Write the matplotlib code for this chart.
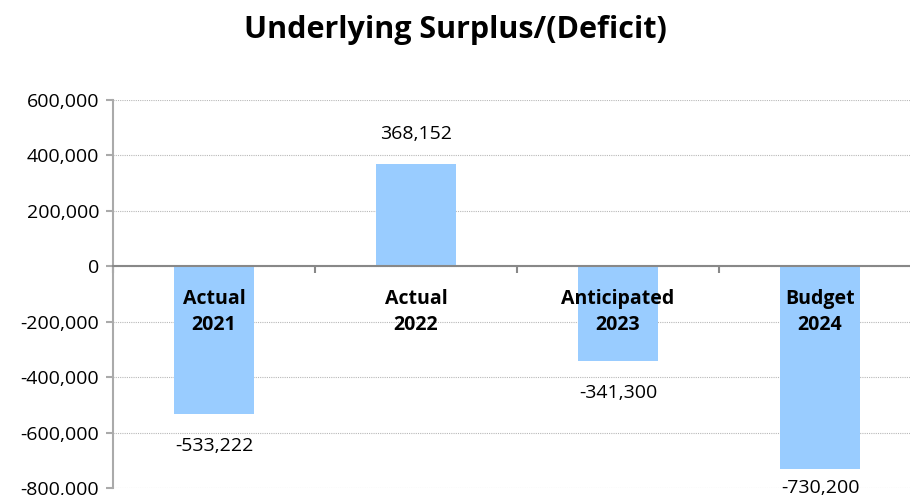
import matplotlib.pyplot as plt
import numpy as np

plt.rcParams['font.family'] = ['Open Sans', 'DejaVu Sans']

categories = ['Actual\n2021', 'Actual\n2022', 'Anticipated\n2023', 'Budget\n2024']
values = [-533222, 368152, -341300, -730200]
yticks = [-800000, -600000, -400000, -200000, 0, 200000, 400000, 600000]

fig = plt.figure(figsize=(9.1, 4.95), dpi=100)
ax = fig.add_axes([113 / 910, 1 - 488 / 495, 808 / 910, 388 / 495])

x = np.arange(len(categories))
ax.bar(x, values, width=0.4, color='#99ccff', zorder=2)

ymin, ymax = -800000, 600000
ax.set_xlim(-0.5, 3.5)
ax.set_ylim(ymin, ymax)
ax.set_yticks(yticks)
ax.set_yticklabels([f'{v:,}' for v in yticks], fontsize=14)
ax.yaxis.grid(True, linestyle=(0, (1, 1)), color='#b8b8b8', linewidth=0.8, zorder=0)

# x axis sits on zero, ticks between categories
ax.spines['bottom'].set_position(('data', 0))
ax.spines['bottom'].set_color('#888888')
ax.spines['bottom'].set_linewidth(1.5)
ax.spines['left'].set_color('#aaaaaa')
ax.spines['left'].set_linewidth(1.5)
ax.spines['top'].set_visible(False)
ax.spines['right'].set_visible(False)
ax.set_xticks(np.arange(-0.5, 4, 1))
ax.set_xticklabels([])
ax.tick_params(axis='x', direction='out', length=5, color='#888888', width=1.5)
ax.tick_params(axis='y', direction='out', length=5, color='#aaaaaa', width=1.5, pad=5)

for i, (c, v) in enumerate(zip(categories, values)):
    ax.text(i, -164000, c, ha='center', va='center', fontsize=14,
            fontweight='bold', linespacing=1.4, zorder=3)
    # labels sit outside the bar end, but stay inside the plot area
    ly = v + 108000 if v > 0 else max(v - 115000, ymin)
    ax.text(i, ly, f'{v:,}', ha='center', va='center', fontsize=14, clip_on=False)

fig.text(0.5, 1 - 30 / 495, 'Underlying Surplus/(Deficit)', ha='center', va='center',
         fontsize=22, fontweight='bold')

fig.savefig('out.png', dpi=100)
